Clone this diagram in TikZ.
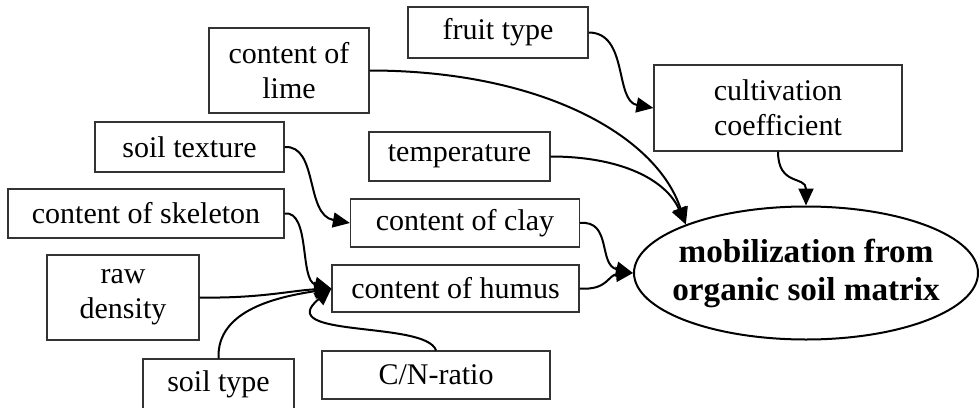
\documentclass[tikz,border=0pt]{standalone}
\usepackage{fontspec}
\setmainfont{Liberation Serif}
\usetikzlibrary{arrows.meta,shapes.geometric}

\begin{document}
\begin{tikzpicture}[
   x=0.5pt, y=-0.5pt,
   fac/.style={draw=black!80, line width=0.6pt, align=center, inner sep=0pt,
               font=\fontsize{15}{17.5}\selectfont},
   goal/.style={ellipse, draw, line width=1pt, align=center,
                inner xsep=-8pt, inner ysep=0pt,
                minimum width=172pt, minimum height=66.5pt,
                font=\fontsize{16.6}{19}\bfseries\selectfont},
   fl/.style={-{Triangle[length=8.5pt,width=7.5pt]}, line width=1pt}]
  \useasboundingbox (0,0) rectangle (979,407);
  \node[fac, minimum width=90pt,  minimum height=25.5pt] (ft) at (498,32.5)   {fruit type};
  \node[fac, minimum width=80pt,  minimum height=42.5pt] (li) at (289,70.5)   {content of\\lime};
  \node[fac, minimum width=124pt, minimum height=43pt]   (cc) at (778,108)    {cultivation\\coefficient};
  \node[fac, minimum width=94.5pt,minimum height=25pt]   (st) at (189.5,147)  {soil texture};
  \node[fac, minimum width=90.5pt,minimum height=24.5pt] (te) at (459.5,156.5){temperature};
  \node[fac, minimum width=138pt, minimum height=24.5pt] (sk) at (146,213.5)  {content of skeleton};
  \node[fac, minimum width=114.5pt,minimum height=24pt]  (cl) at (465,223)    {content of clay};
  \node[fac, minimum width=123.5pt,minimum height=23.5pt](hu) at (455.5,288.5){content of humus};
  \node[fac, minimum width=76pt,  minimum height=42.5pt] (rd) at (123,297.5)  {raw\\density};
  \node[fac, minimum width=75.5pt,minimum height=25.5pt] (sy) at (218.5,384.5){soil type};
  \node[fac, minimum width=114pt, minimum height=24pt]   (cn) at (436,375)    {C/N-ratio};
  \node[goal] (mob) at (806,273) {mobilization from\\organic soil matrix};
  % into the goal
  \draw[fl] (ft.east) .. controls +(40,0) and +(-39,-7) .. (cc.west);
  \draw[fl] (li.east) .. controls +(170,0) and +(-30,-90) .. (mob.158);
  \draw[fl] (te.east) .. controls +(70,0) and +(-20,-45) .. (mob.158);
  \draw[fl] (cc.south) .. controls +(0,35) and +(0,-30) .. (mob.north);
  \draw[fl] (cl.east) .. controls +(32,-3) and +(-35,-8) .. (mob.west);
  \draw[fl] (hu.east) .. controls +(28,2) and +(-25,2) .. (mob.west);
  % soil factors
  \draw[fl] (st.east) .. controls +(34,-2) and +(-45,-8) .. (cl.west);
  \draw[fl] (sk.east) .. controls +(26,-3) and +(-32,-8) .. (hu.west);
  \draw[fl] (rd.east) .. controls +(60,1) and +(-40,2) .. (hu.west);
  \draw[fl] (sy.north) .. controls +(-2,-50) and +(-50,8) .. (hu.west);
  \draw[fl] (cn.north) .. controls +(-10,-30) and +(-60,50) .. (hu.west);
\end{tikzpicture}
\end{document}
